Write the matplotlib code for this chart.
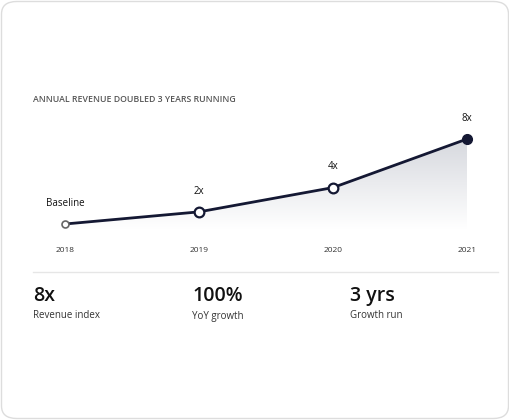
import matplotlib.pyplot as plt
import numpy as np
from matplotlib.patches import FancyBboxPatch, Polygon
from matplotlib.colors import LinearSegmentedColormap

years = ["2018", "2019", "2020", "2021"]
revenue = [1, 2, 4, 8]
point_labels = ["Baseline", "2x", "4x", "8x"]
stat_values = ["8x", "100%", "3 yrs"]
stat_names = ["Revenue index", "YoY growth", "Growth run"]

plt.rcParams['font.family'] = ['Open Sans', 'DejaVu Sans']
W, H = 510, 420
fig = plt.figure(figsize=(W / 100, H / 100), dpi=100)
fig.patch.set_facecolor("white")

# card behind everything
card = FancyBboxPatch((1.5 / W, 1.5 / H), (W - 3) / W, (H - 3) / H,
                      boxstyle="round,pad=0,rounding_size=0.03",
                      transform=fig.transFigure, facecolor="white",
                      edgecolor="#dddddd", linewidth=1, zorder=-10)
fig.patches.append(card)

def fx(px):
    return px / W

def fy(py):
    return 1 - py / H

fig.text(fx(33), fy(100), "ANNUAL REVENUE DOUBLED 3 YEARS RUNNING",
         fontsize=6.3, color="#555555", va="center", ha="left", weight="semibold")

# chart axes: x 0..3 -> 65..467 px, y pixel 240..130
px_per = 12.14
ybot = 1 + (224 - 240) / px_per
ytop = 1 + (224 - 130) / px_per
ax = fig.add_axes([fx(65), fy(240), fx(467) - fx(65), (240 - 130) / H])
ax.set_xlim(0, 3)
ax.set_ylim(ybot, ytop)
ax.axis("off")
ax.patch.set_alpha(0)

x = np.arange(len(revenue))
dark = "#141833"

# gradient fill under line
fill_floor = ybot + 0.9
verts = list(zip(x, revenue)) + [(3, fill_floor), (0, fill_floor)]
poly = Polygon(verts, closed=True, facecolor="none", edgecolor="none")
ax.add_patch(poly)
grad = np.linspace(0, 1, 256).reshape(-1, 1)
cmap = LinearSegmentedColormap.from_list("g", ["#ffffff", "#d6d8de"])
im = ax.imshow(grad, extent=[0, 3, fill_floor, max(revenue)], origin="lower",
               cmap=cmap, aspect="auto", zorder=1)
im.set_clip_path(poly)

ax.plot(x, revenue, color=dark, linewidth=2, zorder=3, clip_on=False)
ax.plot(x[0], revenue[0], "o", ms=5, mfc="white", mec="#666666", mew=1.2, zorder=4, clip_on=False)
ax.plot(x[1:3], revenue[1:3], "o", ms=7, mfc="white", mec=dark, mew=1.6, zorder=4, clip_on=False)
ax.plot(x[3], revenue[3], "o", ms=7, mfc=dark, mec=dark, zorder=4, clip_on=False)

for i, (v, lab) in enumerate(zip(revenue, point_labels)):
    ax.annotate(lab, (i, v), xytext=(0, 11), textcoords="offset points",
                ha="center", va="bottom", fontsize=7, color="#111111")

for i, yr in enumerate(years):
    fig.text(fx(65 + i * 134), fy(250), yr, fontsize=6, color="#333333",
             ha="center", va="center")

fig.add_artist(plt.Line2D([fx(33), fx(498)], [fy(272), fy(272)],
                          color="#e6e6e6", linewidth=1))

for i, (sv, sn) in enumerate(zip(stat_values, stat_names)):
    xp = [33, 192, 350][i]
    fig.text(fx(xp), fy(296), sv, fontsize=14, color="#111111", ha="left",
             va="center", weight="semibold")
    fig.text(fx(xp), fy(316), sn, fontsize=7, color="#333333", ha="left", va="center")

fig.savefig("out.png", dpi=100, facecolor="white")
